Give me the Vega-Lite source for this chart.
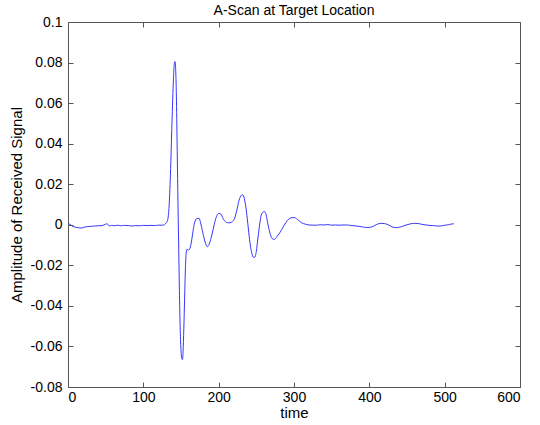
{
  "$schema": "https://vega.github.io/schema/vega-lite/v6.json",
  "autosize": "none",
  "width": 452,
  "height": 365,
  "padding": {"left": 68, "top": 22, "right": 20, "bottom": 38},
  "background": "white",
  "config": {
    "font": "Liberation Sans",
    "view": {"stroke": "#555", "strokeWidth": 1},
    "axis": {"grid": false, "domain": false, "tickColor": "#555", "tickSize": -5, "labelColor": "#000", "labelFontSize": 14, "titleFontSize": 15, "titleFontWeight": "normal", "titleColor": "#000", "labelFont": "Liberation Sans", "titleFont": "Liberation Sans"}
  },
  "title": {"text": "A-Scan at Target Location", "fontSize": 14, "fontWeight": "normal", "font": "Liberation Sans", "color": "#000", "offset": -3},
  "data": {"values": [
    {"t":0,"a":0.0004},{"t":3,"a":0.0002},{"t":6,"a":-0.0008},{"t":10,"a":-0.0012},{"t":14,"a":-0.0015},{"t":18,"a":-0.0016},{"t":22,"a":-0.0011},{"t":26,"a":-0.0009},{"t":30,"a":-0.0008},{"t":35,"a":-0.0006},{"t":40,"a":-0.0005},{"t":45,"a":-0.0004},{"t":50,"a":0.0003},{"t":52,"a":0.0005},{"t":55,"a":-0.0006},{"t":58,"a":-0.0003},{"t":62,"a":-0.0005},{"t":66,"a":-0.0002},{"t":70,"a":-0.0005},{"t":75,"a":-0.0003},{"t":80,"a":-0.0004},{"t":85,"a":-0.0006},{"t":90,"a":-0.0004},{"t":95,"a":-0.0005},{"t":100,"a":-0.0003},{"t":105,"a":-0.0004},{"t":110,"a":-0.0003},{"t":115,"a":-0.0004},{"t":120,"a":-0.0002},{"t":125,"a":-0.0002},{"t":128,"a":0.0},
    {"t":130,"a":0.0008},{"t":132,"a":0.002},{"t":134,"a":0.008},{"t":136,"a":0.025},{"t":138,"a":0.05},{"t":140,"a":0.072},{"t":141,"a":0.079},{"t":142,"a":0.0805},{"t":143,"a":0.076},{"t":144,"a":0.061},{"t":145,"a":0.036},{"t":146,"a":0.01},{"t":147,"a":-0.012},{"t":148,"a":-0.035},{"t":149,"a":-0.052},{"t":150,"a":-0.062},{"t":151,"a":-0.066},{"t":152,"a":-0.0665},{"t":153,"a":-0.06},{"t":154,"a":-0.048},{"t":155,"a":-0.033},{"t":156,"a":-0.02},{"t":157,"a":-0.0135},{"t":158,"a":-0.012},{"t":160,"a":-0.0125},{"t":162,"a":-0.0115},{"t":164,"a":-0.008},{"t":166,"a":-0.003},{"t":168,"a":0.001},{"t":171,"a":0.003},{"t":174,"a":0.0032},{"t":176,"a":0.001},{"t":179,"a":-0.004},{"t":182,"a":-0.0085},{"t":185,"a":-0.0108},{"t":188,"a":-0.009},{"t":191,"a":-0.005},{"t":194,"a":0.0},{"t":197,"a":0.004},{"t":200,"a":0.0056},{"t":203,"a":0.0052},{"t":206,"a":0.003},{"t":209,"a":0.0015},{"t":212,"a":0.001},{"t":215,"a":0.001},{"t":218,"a":0.0015},{"t":221,"a":0.003},{"t":224,"a":0.007},{"t":227,"a":0.012},{"t":230,"a":0.0145},{"t":232,"a":0.0148},{"t":234,"a":0.013},{"t":236,"a":0.009},{"t":238,"a":0.003},{"t":240,"a":-0.004},{"t":242,"a":-0.01},{"t":244,"a":-0.014},{"t":246,"a":-0.016},{"t":248,"a":-0.016},{"t":250,"a":-0.013},{"t":252,"a":-0.007},{"t":254,"a":-0.001},{"t":256,"a":0.004},{"t":258,"a":0.006},{"t":261,"a":0.0065},{"t":263,"a":0.005},{"t":265,"a":0.001},{"t":268,"a":-0.004},{"t":271,"a":-0.0068},{"t":274,"a":-0.0072},{"t":277,"a":-0.006},{"t":281,"a":-0.004},{"t":285,"a":-0.0015},{"t":289,"a":0.001},{"t":293,"a":0.0028},{"t":297,"a":0.0035},{"t":301,"a":0.0035},{"t":305,"a":0.0025},{"t":310,"a":0.001},{"t":315,"a":0.0003},
    {"t":320,"a":-0.0001},{"t":325,"a":-0.0002},{"t":330,"a":-0.0002},{"t":335,"a":0.0},{"t":340,"a":-0.0001},{"t":345,"a":0.0001},{"t":350,"a":-0.0002},{"t":355,"a":-0.0001},{"t":360,"a":-0.0002},{"t":365,"a":-0.0001},{"t":370,"a":-0.0001},{"t":375,"a":-0.0003},{"t":380,"a":-0.0005},{"t":385,"a":-0.0007},{"t":390,"a":-0.001},{"t":395,"a":-0.0013},{"t":400,"a":-0.0013},{"t":405,"a":-0.0008},{"t":410,"a":0.0002},{"t":415,"a":0.0007},{"t":420,"a":0.0006},{"t":425,"a":0.0},{"t":430,"a":-0.001},{"t":435,"a":-0.0014},{"t":440,"a":-0.0012},{"t":445,"a":-0.0006},{"t":450,"a":0.0},{"t":455,"a":0.0005},{"t":460,"a":0.0007},{"t":465,"a":0.0006},{"t":470,"a":0.0002},{"t":475,"a":-0.0001},{"t":480,"a":-0.0003},{"t":485,"a":-0.0004},{"t":490,"a":-0.0006},{"t":495,"a":-0.0006},{"t":500,"a":-0.0002},{"t":505,"a":0.0},{"t":508,"a":0.0003},{"t":512,"a":0.0005}
  ]},
  "layer": [
    {
      "mark": {"type": "line", "color": "#3535ff", "strokeWidth": 1, "interpolate": "monotone", "clip": true},
      "encoding": {
        "x": {"field": "t", "type": "quantitative", "scale": {"domain": [0, 600], "nice": false, "zero": false}, "axis": {"title": "time", "values": [0,100,200,300,400,500,600], "labelPadding": 8, "titlePadding": 1}},
        "y": {"field": "a", "type": "quantitative", "scale": {"domain": [-0.08, 0.1], "nice": false, "zero": false}, "axis": {"title": "Amplitude of Received Signal", "values": [-0.08,-0.06,-0.04,-0.02,0,0.02,0.04,0.06,0.08,0.1], "labelExpr": "replace(format(datum.value, '~g'), '\u2212', '-')", "labelPadding": 11, "titlePadding": 6}}
      }
    },
    {
      "mark": {"type": "line", "opacity": 0, "clip": true},
      "encoding": {
        "x": {"field": "t", "type": "quantitative", "axis": {"orient": "top", "title": null, "labels": false, "values": [0,100,200,300,400,500,600]}},
        "y": {"field": "a", "type": "quantitative", "axis": {"orient": "right", "title": null, "labels": false, "values": [-0.08,-0.06,-0.04,-0.02,0,0.02,0.04,0.06,0.08,0.1]}}
      }
    }
  ],
  "resolve": {"axis": {"x": "independent", "y": "independent"}}
}
